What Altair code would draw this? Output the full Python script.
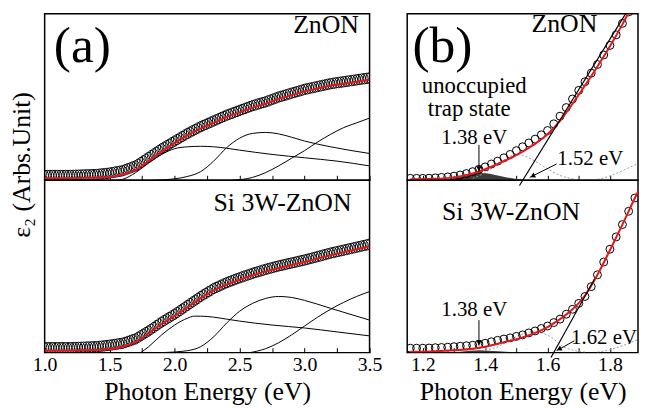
import altair as alt
import pandas as pd

FONT = "'Liberation Serif', 'Times New Roman', serif"
RED = "#e3161c"
ELLIPSE = "M0,-1A0.72,1,0,1,1,0,1A0.72,1,0,1,1,0,-1Z"

# ---------------- Panel (a): eps2 over 1.0-3.5 eV (units: height above panel floor) -------------
a_energy = [round(1.0 + 0.02 * i, 2) for i in range(126)]
a_top_meas = [5, 5, 5, 5, 5, 5, 5, 5, 5, 5, 5,
              5.1, 5.2, 5.3, 5.4, 5.5, 5.6, 5.7, 5.8, 5.9, 6.0,
              6.3, 6.6, 6.9, 7.2, 7.5, 8.0, 8.5, 9.0, 9.5, 10,
              11, 12, 13, 14, 15, 16.8, 18.6, 20.4, 22.2, 24,
              25.8, 27.6, 29.4, 31.2, 33, 34.6, 36.2, 37.8, 39.4, 41,
              42.6, 44.2, 45.8, 47.4, 49, 50.4, 51.8, 53.2, 54.6, 56,
              57.2, 58.4, 59.6, 60.8, 62, 63.2, 64.4, 65.6, 66.8, 68,
              69, 70, 71, 72, 73, 74, 75, 76, 77, 78,
              78.8, 79.6, 80.4, 81.2, 82, 83, 84, 85, 86, 87,
              87.8, 88.6, 89.4, 90.2, 91, 91.8, 92.6, 93.4, 94.2, 95,
              95.6, 96.2, 96.8, 97.4, 98, 98.6, 99.2, 99.8, 100.4, 101,
              101.4, 101.8, 102.2, 102.6, 103, 103.4, 103.8, 104.2, 104.6, 105,
              105.4, 105.8, 106.2, 106.6, 107]
a_bot_meas = [5, 5, 5, 5, 5, 5, 5, 5, 5, 5, 5,
              5.1, 5.2, 5.3, 5.4, 5.5, 5.6, 5.7, 5.8, 5.9, 6.0,
              6.3, 6.6, 6.9, 7.2, 7.5, 7.9, 8.3, 8.7, 9.1, 9.5,
              10.4, 11.3, 12.2, 13.1, 14, 15.6, 17.2, 18.8, 20.4, 22,
              23.8, 25.6, 27.4, 29.2, 31, 32.6, 34.2, 35.8, 37.4, 39,
              40.8, 42.6, 44.4, 46.2, 48, 49.8, 51.6, 53.4, 55.2, 57,
              58.6, 60.2, 61.8, 63.4, 65, 66.2, 67.4, 68.6, 69.8, 71,
              72, 73, 74, 75, 76, 76.9, 77.8, 78.7, 79.6, 80.5,
              81.3, 82.1, 82.9, 83.7, 84.5, 85.2, 85.9, 86.6, 87.3, 88,
              88.6, 89.2, 89.8, 90.4, 91, 91.6, 92.2, 92.8, 93.4, 94,
              94.7, 95.4, 96.1, 96.8, 97.5, 98.2, 98.9, 99.6, 100.3, 101,
              101.6, 102.2, 102.8, 103.4, 104, 104.6, 105.2, 105.8, 106.4, 107,
              107.6, 108.2, 108.8, 109.4, 110]

a_fit_E = [1.0, 1.3, 1.5, 1.6, 1.7, 1.8, 1.9, 2.0, 2.1, 2.2, 2.3, 2.4, 2.5, 2.6, 2.7, 2.8,
           2.9, 3.0, 3.1, 3.2, 3.3, 3.4, 3.5]
a_top_fit = [2, 2.5, 3.5, 6, 11, 20, 30, 38.5, 47, 54, 60, 66, 71, 76, 80, 85,
             89, 93, 96, 99, 101, 103, 105]
a_bot_fit = [2, 2.5, 3.5, 6, 11, 19.5, 29, 37, 46, 55, 63, 69, 74, 78.5, 82.5, 86,
             89, 92, 95.5, 99, 102, 105, 108]

# oscillator components, top (ZnON)
a_top_c1_E = [1.55, 1.6, 1.7, 1.8, 1.9, 2.0, 2.1, 2.2, 2.3, 2.4, 2.5, 2.75, 3.0, 3.25, 3.5]
a_top_c1 = [0, 1, 8, 18, 27, 33, 35, 35.5, 35, 33.5, 31.5, 27, 23.5, 20, 15]
a_top_c2_E = [1.85, 2.0, 2.1, 2.2, 2.3, 2.4, 2.5, 2.6, 2.7, 2.8, 2.9, 3.0, 3.2, 3.5]
a_top_c2 = [0, 1.5, 4, 9, 20, 34, 44, 49, 50, 48.5, 45, 41, 35, 28]
a_top_c3_E = [2.45, 2.6, 2.7, 2.8, 2.9, 3.0, 3.1, 3.2, 3.3, 3.4, 3.5]
a_top_c3 = [0, 3, 8, 15, 23, 31, 40, 48, 55, 60, 65]
# oscillator components, bottom (Si 3W-ZnON)
a_bot_c1_E = [1.74, 1.8, 1.9, 2.0, 2.1, 2.15, 2.2, 2.3, 2.4, 2.5, 2.75, 3.0, 3.25, 3.5]
a_bot_c1 = [0, 6, 18, 28, 35, 37, 37, 36, 34, 32, 28, 25, 21, 17]
a_bot_c2_E = [1.9, 2.1, 2.2, 2.3, 2.4, 2.5, 2.6, 2.7, 2.8, 2.9, 3.0, 3.2, 3.5]
a_bot_c2 = [0, 2, 6, 16, 30, 42, 50, 55, 57, 56, 53, 45, 33]
a_bot_c3_E = [2.58, 2.7, 2.8, 2.9, 3.0, 3.1, 3.2, 3.3, 3.4, 3.5]
a_bot_c3 = [0, 4, 10, 18, 27, 36, 44, 51, 57, 62]

# ---------------- Panel (b): zoom on the absorption edge -------------
b_energy = [round(1.16 + 0.02 * i, 2) for i in range(37)]
b_top_meas = [2, 2, 2, 2.2, 2.5, 3, 3.5, 4.3, 5.5, 7, 9, 11.5, 14, 17, 20, 23.5, 27, 31, 35,
              39, 43, 47.5, 52, 59, 67, 76, 85, 94, 103, 112, 121, 131, 141, 152, 164, 176, 188]
b_bot_meas = [4.5, 4.5, 4.5, 4.7, 5, 5.2, 5.5, 6, 6.5, 7, 7.5, 8.5, 9.5, 11, 12.5, 13.8, 15,
              16.5, 18, 20, 22, 24.5, 27, 30.5, 34, 39, 44, 50, 57, 67, 79, 92, 105, 117.5,
              130, 143.5, 157]
b_fit_E = [1.16, 1.24, 1.30, 1.36, 1.40, 1.44, 1.48, 1.52, 1.56, 1.60, 1.64, 1.68, 1.72,
           1.76, 1.80, 1.84, 1.88, 1.90]
b_top_fit = [1, 1.5, 3, 7, 11.5, 17, 23, 30, 38, 48, 62, 80, 99, 119, 140, 163, 188, 200]
b_bot_fit = [1, 1.5, 2.5, 4, 6, 9, 12, 15.5, 20, 26, 34, 44, 58, 79, 104, 130, 157, 170]

b_top_trap_E = [1.24, 1.28, 1.32, 1.35, 1.38, 1.41, 1.44, 1.47, 1.50, 1.53, 1.56]
b_top_trap = [0, 1, 3.5, 6.5, 8, 7, 5, 3, 1.2, 0.3, 0]
b_bot_trap_E = [1.28, 1.32, 1.35, 1.38, 1.41, 1.44, 1.48, 1.52]
b_bot_trap = [0, 1, 2, 2.5, 2, 1.3, 0.5, 0]

b_top_d1_E = [1.36, 1.40, 1.44, 1.48, 1.50, 1.52, 1.56, 1.60, 1.64, 1.68, 1.72]
b_top_d1 = [2, 8, 17, 25, 27, 26, 20, 12, 5, 1.5, 0]
b_top_d2_E = [1.76, 1.80, 1.84, 1.88, 1.90]
b_top_d2 = [1, 4.5, 10, 16, 19]
b_bot_d1_E = [1.40, 1.44, 1.48, 1.52, 1.55, 1.58, 1.61, 1.65, 1.68, 1.72]
b_bot_d1 = [2, 6, 13, 19, 21, 20, 16, 6, 2.5, 0.5]
b_bot_d2_E = [1.76, 1.80, 1.84, 1.88, 1.90]
b_bot_d2 = [0.5, 3, 7, 12, 15]

# linear extrapolations of the edge (intercepts 1.52 eV and 1.62 eV)
b_top_tan_E = [1.51, 1.85]
b_top_tan = [-5.5, 174]
b_bot_tan_E = [1.611, 1.751]
b_bot_tan = [-5, 75]

# axis ticks
a_ticks = [1.0, 1.25, 1.5, 1.75, 2.0, 2.25, 2.5, 2.75, 3.0, 3.25, 3.5]
b_ticks = [1.2, 1.3, 1.4, 1.5, 1.6, 1.7, 1.8]

A_DOM = [1.0, 3.5]
B_DOM = [1.15, 1.89]
TOP_DOM = [0, 174]
BOT_DOM = [0, 175]
W_A, W_B = 328, 233
H_TOP, H_BOT = 168, 174


def df(E, v):
    return pd.DataFrame({"E": E, "v": v})


def x_axis(values, every, labels, title):
    kw = dict(values=values, tickSize=5, offset=-5, tickColor="black", tickWidth=1,
              domain=False, grid=False, labels=labels, labelFont=FONT, labelFontSize=20,
              labelColor="black", labelPadding=2, labelFlush=False,
              labelExpr=f"round(datum.value*{every}) % 2 == 0 ? format(datum.value, '.1f') : ''")
    if title:
        kw.update(title=title, titleFont=FONT, titleFontSize=26, titleFontWeight="normal",
                  titleColor="black", titlePadding=4)
    else:
        kw.update(title=None)
    return alt.Axis(**kw)


def make_panel(xdom, ydom, w, h, xaxis, yaxis, meas, fit, comps=(), dotted=(), fills=(),
               tangent=None, arrows=(), texts=(), msize=60, mstroke=1.0, mshape="circle"):
    X = lambda f="E": alt.X(f"{f}:Q", scale=alt.Scale(domain=xdom, nice=False, zero=False),
                           axis=xaxis)
    Y = lambda f="v": alt.Y(f"{f}:Q", scale=alt.Scale(domain=ydom, nice=False, zero=False),
                           axis=yaxis)
    layers = []
    for d in fills:
        layers.append(alt.Chart(d).mark_area(color="#3c3c3c", clip=True)
                      .encode(x=X(), y=Y(), y2=alt.datum(0)))
    for d in dotted:
        layers.append(alt.Chart(d).mark_line(color="#9a9a9a", strokeDash=[2, 2], strokeWidth=1,
                                             interpolate="monotone", clip=True)
                      .encode(x=X(), y=Y()))
    for d in comps:
        layers.append(alt.Chart(d).mark_line(color="black", strokeWidth=1,
                                             interpolate="monotone", clip=True)
                      .encode(x=X(), y=Y()))
    layers.append(alt.Chart(meas).mark_point(shape=mshape, filled=False, color="black",
                                             size=msize, strokeWidth=mstroke, opacity=1,
                                             clip=True)
                  .encode(x=X(), y=Y()))
    layers.append(alt.Chart(fit).mark_line(color=RED, strokeWidth=2, interpolate="monotone",
                                           clip=True)
                  .encode(x=X(), y=Y()))
    if tangent is not None:
        layers.append(alt.Chart(tangent).mark_line(color="black", strokeWidth=1.2)
                      .encode(x=X(), y=Y()))
    if len(arrows):
        ar = pd.DataFrame(arrows, columns=["E", "v", "E2", "v2", "hE", "hv", "ang"])
        layers.append(alt.Chart(ar).mark_rule(color="black", strokeWidth=1)
                      .encode(x=X(), y=Y(), x2="E2:Q", y2="v2:Q"))
        layers.append(alt.Chart(ar).mark_point(shape="triangle-up", filled=True, color="black",
                                               size=32, opacity=1)
                      .encode(x=X("hE"), y=Y("hv"), angle=alt.Angle("ang:Q", scale=None)))
    if len(texts):
        tx = pd.DataFrame(texts, columns=["E", "v", "t", "fs"])
        layers.append(alt.Chart(tx).mark_text(font=FONT, color="black", align="center",
                                              baseline="middle")
                      .encode(x=X(), y=Y(), text="t:N", size=alt.Size("fs:Q", scale=None)))
    return alt.layer(*layers).properties(width=w, height=h)


y_title_axis = alt.Axis(title="ε₂ (Arbs.Unit)", labels=False, ticks=False, domain=False,
                        grid=False, titleFont=FONT, titleFontSize=26, titleFontWeight="normal",
                        titleColor="black", titleY=152, titleX=-15, titleBaseline="alphabetic")

a_top = make_panel(
    A_DOM, TOP_DOM, W_A, H_TOP, x_axis(a_ticks, 4, False, None), y_title_axis,
    df(a_energy, a_top_meas), df(a_fit_E, a_top_fit),
    comps=[df(a_top_c1_E, a_top_c1), df(a_top_c2_E, a_top_c2), df(a_top_c3_E, a_top_c3)],
    texts=[(1.29, 140.5, "(a)", 52), (3.165, 162, "ZnON", 26)],
    msize=110, mstroke=1.0, mshape=ELLIPSE)

a_bot = make_panel(
    A_DOM, BOT_DOM, W_A, H_BOT, x_axis(a_ticks, 4, True, "Photon Energy (eV)"), None,
    df(a_energy, a_bot_meas), df(a_fit_E, a_bot_fit),
    comps=[df(a_bot_c1_E, a_bot_c1), df(a_bot_c2_E, a_bot_c2), df(a_bot_c3_E, a_bot_c3)],
    texts=[(2.83, 151.9, "Si 3W-ZnON", 26)],
    msize=110, mstroke=1.0, mshape=ELLIPSE)

b_top = make_panel(
    B_DOM, TOP_DOM, W_B, H_TOP, x_axis(b_ticks, 10, False, None), None,
    df(b_energy, b_top_meas), df(b_fit_E, b_top_fit),
    dotted=[df(b_top_d1_E, b_top_d1), df(b_top_d2_E, b_top_d2)],
    fills=[df(b_top_trap_E, b_top_trap)],
    tangent=df(b_top_tan_E, b_top_tan),
    arrows=[(1.38, 37, 1.38, 9, 1.38, 12, 180),
            (1.629, 17, 1.543, 3, 1.552, 4.4, 243)],
    texts=[(1.263, 140.5, "(b)", 52), (1.654, 163.6, "ZnON", 26),
           (1.365, 98.5, "unoccupied", 23), (1.349, 74, "trap state", 23),
           (1.365, 44, "1.38 eV", 21), (1.737, 22, "1.52 eV", 21)],
    msize=64, mstroke=1.0)

b_bot = make_panel(
    B_DOM, BOT_DOM, W_B, H_BOT, x_axis(b_ticks, 10, True, "Photon Energy (eV)"), None,
    df(b_energy, b_bot_meas), df(b_fit_E, b_bot_fit),
    dotted=[df(b_bot_d1_E, b_bot_d1), df(b_bot_d2_E, b_bot_d2)],
    fills=[df(b_bot_trap_E, b_bot_trap)],
    tangent=df(b_bot_tan_E, b_bot_tan),
    arrows=[(1.38, 33, 1.38, 7, 1.38, 10, 180),
            (1.686, 12, 1.629, 2, 1.637, 3.5, 241)],
    texts=[(1.483, 142.8, "Si 3W-ZnON", 26), (1.365, 43.2, "1.38 eV", 21),
           (1.781, 15.1, "1.62 eV", 21)],
    msize=64, mstroke=1.0)

chart = (alt.concat(a_top, b_top, a_bot, b_bot, columns=2,
                    spacing={"row": 0, "column": 38}, bounds="flush", align="each")
         .configure_view(stroke="black", strokeWidth=1.5)
         .properties(padding={"left": 0, "top": 0, "right": 0, "bottom": 0},
                     background="white"))

chart.save("out.html", embed_options={"renderer": "svg", "actions": False})
